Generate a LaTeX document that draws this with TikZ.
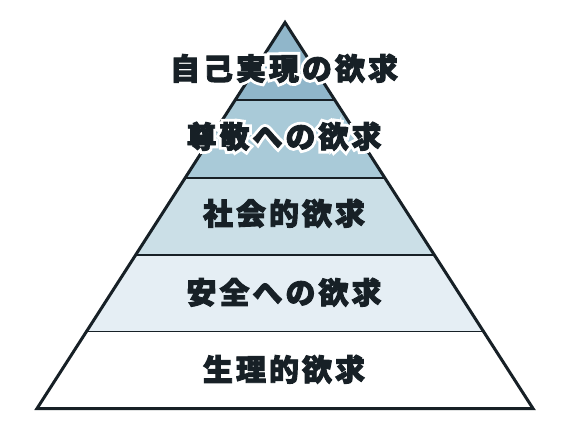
\documentclass[tikz,border=0pt]{standalone}
\usepackage{fontspec}
\newfontfamily\jp[LetterSpace=10,FakeBold=3]{Noto Sans CJK JP}
\newfontfamily\jphalo[LetterSpace=10,FakeBold=22]{Noto Sans CJK JP}
\definecolor{lineC}{HTML}{172026}
\definecolor{bandA}{HTML}{90B6CA}
\definecolor{bandB}{HTML}{A9CAD8}
\definecolor{bandC}{HTML}{CBDFE7}
\definecolor{bandD}{HTML}{E5EEF4}
\tikzset{
  lbl/.style={text height=0.88em, text depth=0.12em, inner sep=0pt, anchor=center},
  halo/.style={lbl, font=\jphalo\bfseries\fontsize{30}{30}\selectfont, text=white},
  ink/.style={lbl, font=\jp\bfseries\fontsize{30}{30}\selectfont, text=lineC},
  sep/.style={draw=lineC, line width=1.5pt},
  outline/.style={draw=lineC, line width=3pt, line join=miter}
}
\begin{document}
\begin{tikzpicture}[x=1pt,y=-1pt]
\useasboundingbox (0,0) rectangle (570,430);
\fill[white] (0,0) rectangle (570,430);
\coordinate (apex) at (285,22.5);
\coordinate (bl) at (37,408.5);
\coordinate (br) at (533,408.5);
\begin{scope}
  \clip (apex) -- (br) -- (bl) -- cycle;
  \fill[bandA] (0,0) rectangle (570,100);
  \fill[bandB] (0,100) rectangle (570,178);
  \fill[bandC] (0,178) rectangle (570,255);
  \fill[bandD] (0,255) rectangle (570,331.5);
  \fill[white] (0,331.5) rectangle (570,430);
  \draw[sep] (0,100) -- (570,100);
  \draw[sep] (0,178) -- (570,178);
  \draw[sep] (0,255) -- (570,255);
  \draw[sep] (0,331.5) -- (570,331.5);
\end{scope}
\draw[outline] (apex) -- (br) -- (bl) -- cycle;
\coordinate (p1) at (284,76);
\coordinate (p2) at (284,144);
\coordinate (p3) at (284,221);
\coordinate (p4) at (284,300);
\coordinate (p5) at (284,377);
\node[halo] (h1) at (p1) {自己実現の欲求};
\node[ink] (l1) at (p1) {自己実現の欲求};
\node[halo] (h2) at (p2) {尊敬への欲求};
\node[ink] (l2) at (p2) {尊敬への欲求};
\node[ink] (l3) at (p3) {社会的欲求};
\node[ink] (l4) at (p4) {安全への欲求};
\node[ink] (l5) at (p5) {生理的欲求};
\end{tikzpicture}
\end{document}
